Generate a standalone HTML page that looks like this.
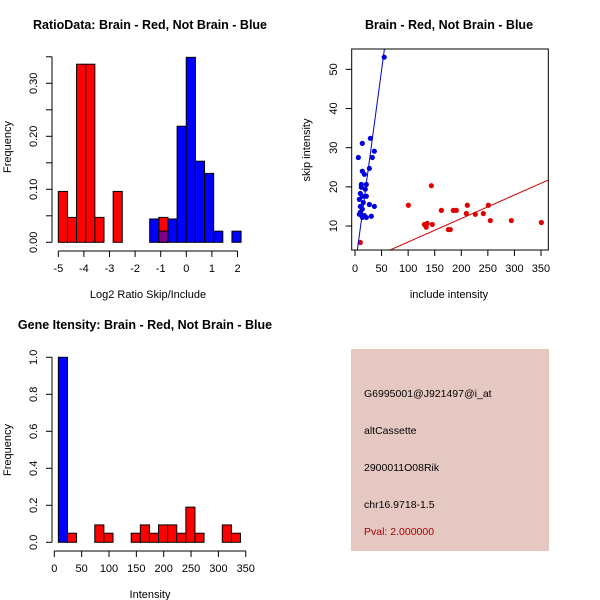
<!DOCTYPE html>
<html><head><meta charset="utf-8"><style>
body{margin:0;background:#fff}
svg{display:block;font-family:"Liberation Sans",sans-serif}
</style></head><body>
<svg id="root" width="600" height="600" viewBox="0 0 600 600"></svg>
<script>
// ---- Panel 1 data: ratio histogram (common breaks) ----
const ratioBinStart = -5.0;
const ratioBinWidth = 0.357;
const ratioRed = [0.096,0.047,0.336,0.336,0.047,0,0.096,0,0,0,0,0.047,0,0,0,0,0,0,0,0];
const ratioBlue = [0,0,0,0,0,0,0,0,0,0,0.044,0.021,0.044,0.219,0.349,0.153,0.130,0.021,0,0.021];
const ratioXTicks = [-5,-4,-3,-2,-1,0,1,2];
const ratioYTicks = [0,0.05,0.10,0.15,0.20,0.25,0.30,0.35];
const ratioYLabels = ["0.00","","0.10","","0.20","","0.30",""];
// ---- Panel 2 data: scatter ----
const blueX = [55,6.3,13.8,28.9,36.4,32.6,27,13.8,17.6,21.3,11.9,11.9,19.4,21.3,10,13.8,8.2,15.7,27,36.4,10,13.8,10,8.2,17.6,30.7,13.8,21.3];
const blueY = [53.1,27.5,31.1,32.4,29.1,27.5,24.7,24,23.2,20.6,20.6,19.9,19.4,17.6,18.3,17.6,16.8,16,15.5,15,15,14.3,13.5,13,12.7,12.5,12.2,12.2];
const redX = [100.4,143.7,162.5,185,190.7,211.4,251,209.5,226.5,241.5,130.5,136,134,145.5,175.7,179.4,254.7,294.2,350.7,10];
const redY = [15.3,20.3,14,14,14,15.3,15.3,13.2,13,13.2,10.4,10.7,9.7,10.4,9.1,9.1,11.4,11.4,10.9,5.8];
const blueFit = [-0.6, 1.008];  // intercept, slope
const redFit = [-0.08, 0.06];
const scatXTicks = [0,50,100,150,200,250,300,350];
const scatYTicks = [10,20,30,40,50];
// ---- Panel 3 data: intensity histogram ----
const intBinStart = 7.4;
const intBinWidth = 16.65;
const intBlue = [1.0];
const intRed = [0,0.049,0,0,0.094,0.049,0,0,0.049,0.094,0.049,0.094,0.094,0.049,0.19,0.049,0,0,0.094,0.049];
const intXTicks = [0,50,100,150,200,250,300,350];
const intYTicks = [0,0.2,0.4,0.6,0.8,1.0];
const intYLabels = ["0.0","0.2","0.4","0.6","0.8","1.0"];
// ---- Panel 4 text ----
const infoLines = ["G6995001@J921497@i_at","altCassette","2900011O08Rik","chr16.9718-1.5"];
const pvalText = "Pval: 2.000000";

const NS="http://www.w3.org/2000/svg";
const root=document.getElementById('root');
function mk(tag,attrs,parent,txt){const e=document.createElementNS(NS,tag);for(const k in attrs)e.setAttribute(k,attrs[k]);if(txt!==undefined)e.textContent=txt;(parent||root).appendChild(e);return e;}
function grp(name){const g=mk('g',{});


return g;}

// ===== Panel 1 =====
(function(){
const g=grp('ratio-histogram');
const x=v=>58.3+(v+5)*25.6, y=v=>242.3-v*530;
const t=mk('text',{x:150,y:29,'text-anchor':'middle','font-weight':'bold','font-size':12.5},g,'RatioData: Brain - Red, Not Brain - Blue');


ratioRed.forEach((h,i)=>{if(!h)return;const a=ratioBinStart+i*ratioBinWidth;
const r=mk('rect',{x:x(a),y:y(h),width:x(a+ratioBinWidth)-x(a),height:y(0)-y(h),fill:'#ff0000',stroke:'#000','stroke-width':1},g);

});
ratioBlue.forEach((h,i)=>{if(!h)return;const a=ratioBinStart+i*ratioBinWidth;
const over=ratioRed[i]>0;
const r=mk('rect',{x:x(a),y:y(h),width:x(a+ratioBinWidth)-x(a),height:y(0)-y(h),fill:over?'#800080':'#0000ff',stroke:'#000','stroke-width':1},g);

});
mk('line',{x1:x(-5),x2:x(2),y1:251,y2:251,stroke:'#000'},g);
ratioXTicks.forEach(v=>{mk('line',{x1:x(v),x2:x(v),y1:251,y2:257,stroke:'#000'},g);
mk('text',{x:x(v),y:272,'text-anchor':'middle','font-size':11},g,String(v));});
mk('line',{x1:52,x2:52,y1:y(0),y2:y(0.35),stroke:'#000'},g);
ratioYTicks.forEach((v,i)=>{mk('line',{x1:46,x2:52,y1:y(v),y2:y(v),stroke:'#000'},g);
if(ratioYLabels[i])mk('text',{x:0,y:0,'text-anchor':'middle','font-size':11,transform:`translate(37,${y(v)}) rotate(-90)`},g,ratioYLabels[i]);});
mk('text',{x:0,y:0,'text-anchor':'middle','font-size':11,transform:'translate(11,147) rotate(-90)'},g,'Frequency');
mk('text',{x:148,y:298,'text-anchor':'middle','font-size':11},g,'Log2 Ratio Skip/Include');
})();

// ===== Panel 2 =====
(function(){
const g=grp('scatter-plot');
const X0=351.7,X1=548.3,Y0=49,Y1=250;
const x=v=>355+v*0.5314, y=v=>265.2-v*3.917;
const xi=p=>(p-355)/0.5314;
const t=mk('text',{x:449,y:29,'text-anchor':'middle','font-weight':'bold','font-size':12.5},g,'Brain - Red, Not Brain - Blue');


mk('clipPath',{id:'cp'},g);
mk('rect',{x:X0,y:Y0,width:X1-X0,height:Y1-Y0},document.getElementById('cp'));
blueX.forEach((v,i)=>{const c=mk('circle',{cx:x(v),cy:y(blueY[i]),r:2.6,fill:'#0000e0'},g);

});
redX.forEach((v,i)=>{const c=mk('circle',{cx:x(v),cy:y(redY[i]),r:2.6,fill:'#e00000'},g);

});
const bl=mk('line',{x1:x(xi(X0)),y1:y(blueFit[0]+blueFit[1]*xi(X0)),x2:x(xi(X1)),y2:y(blueFit[0]+blueFit[1]*xi(X1)),stroke:'#0000cc','stroke-width':1,'clip-path':'url(#cp)'},g);


const rl=mk('line',{x1:x(xi(X0)),y1:y(redFit[0]+redFit[1]*xi(X0)),x2:x(xi(X1)),y2:y(redFit[0]+redFit[1]*xi(X1)),stroke:'#cc0000','stroke-width':1,'clip-path':'url(#cp)'},g);


mk('rect',{x:X0,y:Y0,width:X1-X0,height:Y1-Y0,fill:'none',stroke:'#000'},g);
scatXTicks.forEach(v=>{mk('line',{x1:x(v),x2:x(v),y1:Y1,y2:Y1+6,stroke:'#000'},g);
mk('text',{x:x(v),y:272,'text-anchor':'middle','font-size':11},g,String(v));});
scatYTicks.forEach(v=>{mk('line',{x1:X0-6,x2:X0,y1:y(v),y2:y(v),stroke:'#000'},g);
mk('text',{x:0,y:0,'text-anchor':'middle','font-size':11,transform:`translate(337,${y(v)}) rotate(-90)`},g,String(v));});
mk('text',{x:0,y:0,'text-anchor':'middle','font-size':11,transform:'translate(310,150) rotate(-90)'},g,'skip intensity');
mk('text',{x:449,y:298,'text-anchor':'middle','font-size':11},g,'include intensity');
})();

// ===== Panel 3 =====
(function(){
const g=grp('intensity-histogram');
const x=v=>54.3+v*0.547, y=v=>542.3-v*185;
const t=mk('text',{x:145,y:329,'text-anchor':'middle','font-weight':'bold','font-size':12.5},g,'Gene Itensity: Brain - Red, Not Brain - Blue');


intBlue.forEach((h,i)=>{if(!h)return;const a=intBinStart+i*intBinWidth;
const r=mk('rect',{x:x(a),y:y(h),width:x(a+intBinWidth)-x(a),height:y(0)-y(h),fill:'#0000ff',stroke:'#000'},g);

});
intRed.forEach((h,i)=>{if(!h)return;const a=intBinStart+i*intBinWidth;
const r=mk('rect',{x:x(a),y:y(h),width:x(a+intBinWidth)-x(a),height:y(0)-y(h),fill:'#ff0000',stroke:'#000'},g);

});
mk('line',{x1:x(intXTicks[0]),x2:x(350),y1:551,y2:551,stroke:'#000'},g);
intXTicks.forEach(v=>{mk('line',{x1:x(v),x2:x(v),y1:551,y2:557,stroke:'#000'},g);
mk('text',{x:x(v),y:572,'text-anchor':'middle','font-size':11},g,String(v));});
mk('line',{x1:52,x2:52,y1:y(0),y2:y(1),stroke:'#000'},g);
intYTicks.forEach((v,i)=>{mk('line',{x1:46,x2:52,y1:y(v),y2:y(v),stroke:'#000'},g);
mk('text',{x:0,y:0,'text-anchor':'middle','font-size':11,transform:`translate(37,${y(v)}) rotate(-90)`},g,intYLabels[i]);});
mk('text',{x:0,y:0,'text-anchor':'middle','font-size':11,transform:'translate(11,450) rotate(-90)'},g,'Frequency');
mk('text',{x:150,y:598,'text-anchor':'middle','font-size':11},g,'Intensity');
})();

// ===== Panel 4 =====
(function(){
const g=grp('info-panel');
mk('rect',{x:351,y:349,width:198,height:202,fill:'#e6c8c2'},g);
const ys=[397,434,471,508];
infoLines.forEach((s,i)=>{const t=mk('text',{x:364,y:ys[i],'font-size':10.5,fill:'#000'},g,s);

});
const p=mk('text',{x:364,y:535,'font-size':10.5,fill:'#aa0000'},g,pvalText);


})();
</script>
</body></html>
